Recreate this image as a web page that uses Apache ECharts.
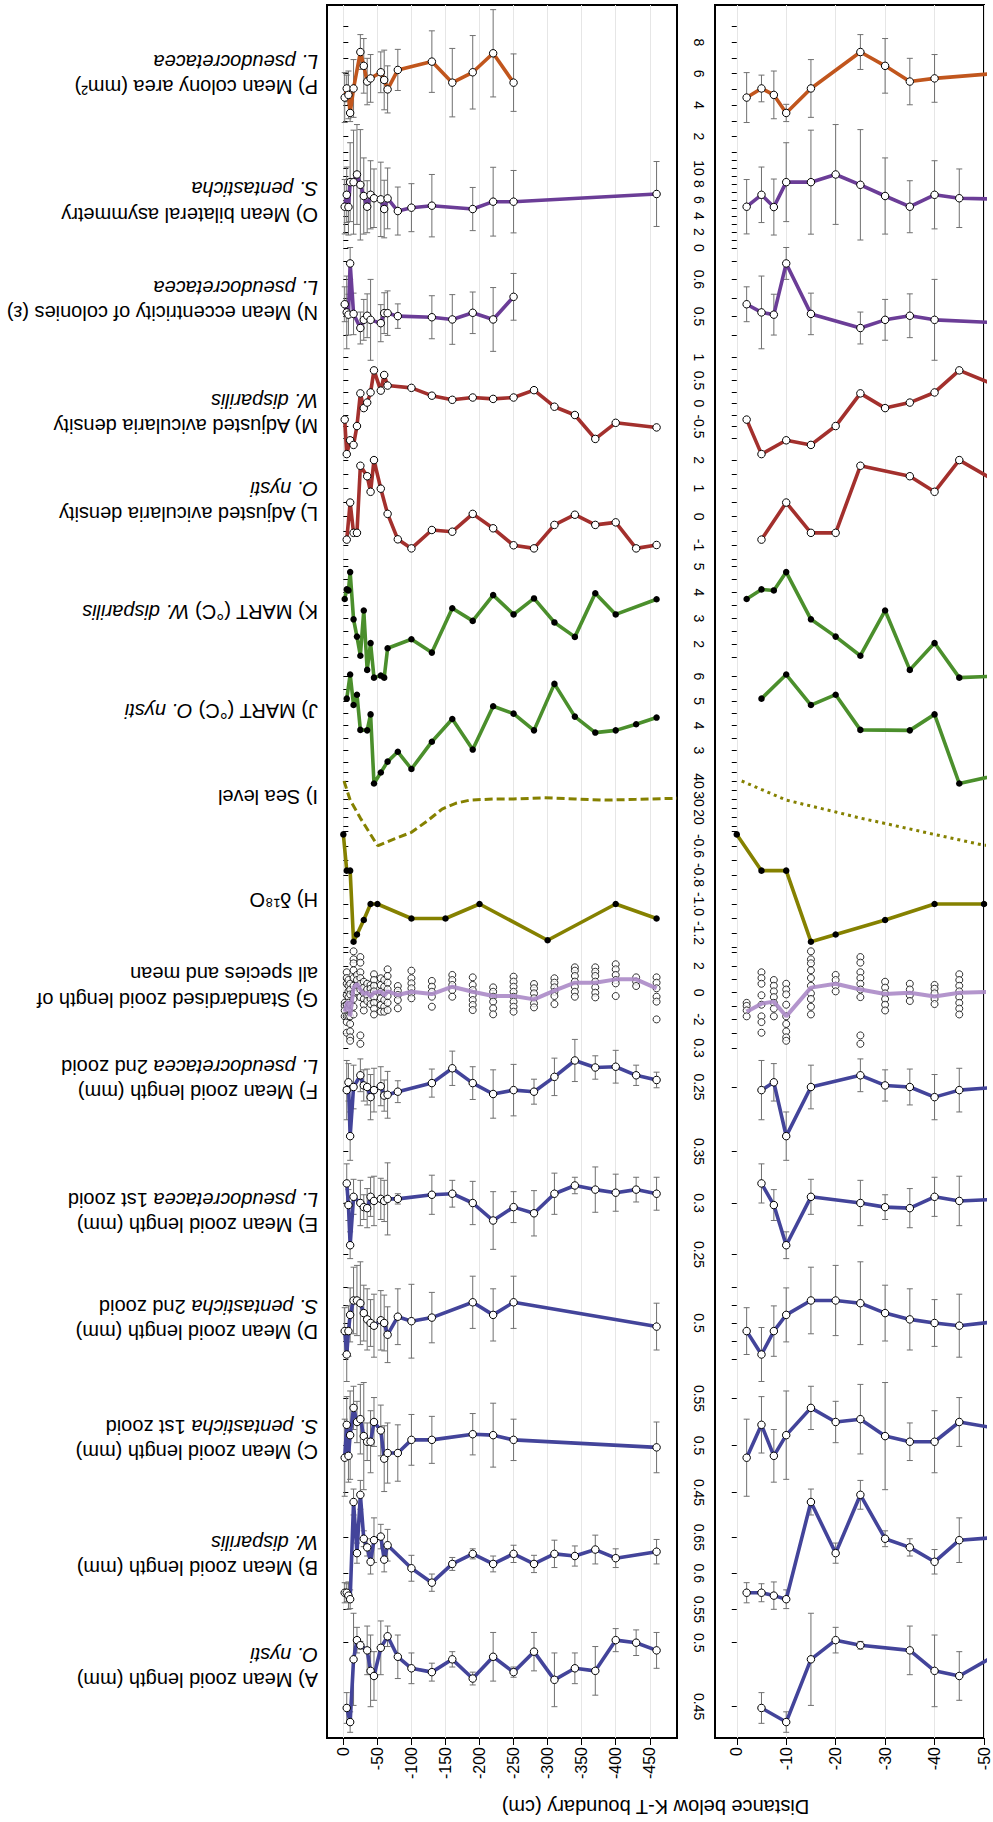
<!DOCTYPE html>
<html><head><meta charset="utf-8">
<script src="https://cdn.jsdelivr.net/npm/echarts@6/dist/echarts.min.js"></script>
<style>html,body{margin:0;padding:0;background:#fff}#c{width:993px;height:1822px}</style>
</head><body><div id="c"></div>
<script>
// ---------------- DATA (depth in cm below K-T boundary) ----------------
const depthA=[-5,-10,-15,-20,-25,-35,-40,-45,-55,-65,-80,-100,-130,-160,-190,-220,-250,-280,-310,-340,-370,-400,-430,-460];
const valA=[0.449,0.438,0.487,0.502,0.498,0.494,0.478,0.474,0.496,0.505,0.489,0.48,0.477,0.487,0.472,0.489,0.477,0.493,0.471,0.48,0.478,0.502,0.5,0.494];
const errA=[0.012,0.008,0.036,0.010,0.003,0.019,0.028,0.019,0.021,0.008,0.017,0.012,0.007,0.006,0.005,0.019,0.004,0.015,0.021,0.012,0.019,0.009,0.010,0.014];

const depthB=[-2,-5,-7.5,-10,-15,-20,-25,-30,-35,-40,-45,-55,-60,-65,-100,-130,-160,-190,-220,-250,-280,-310,-340,-370,-400,-460];
const valB=[0.573,0.573,0.569,0.564,0.699,0.628,0.709,0.648,0.636,0.616,0.646,0.651,0.619,0.639,0.607,0.587,0.613,0.627,0.613,0.627,0.613,0.627,0.624,0.633,0.621,0.63];
const errB=[0.014,0.0125,0.019,0.013,0.018,0.014,0.02,0.011,0.012,0.017,0.031,0.017,0.017,0.022,0.018,0.012,0.009,0.007,0.011,0.012,0.012,0.019,0.014,0.02,0.013,0.017];

const depthC=[-2,-5,-7.5,-10,-15,-20,-25,-30,-35,-40,-45,-55,-60,-65,-80,-100,-130,-190,-220,-250,-460];
const valC=[0.487,0.522,0.489,0.511,0.54,0.525,0.528,0.51,0.504,0.504,0.525,0.516,0.486,0.492,0.492,0.506,0.506,0.512,0.511,0.506,0.498];
const errC=[0.041,0.030,0.028,0.047,0.023,0.022,0.037,0.057,0.020,0.033,0.026,0.027,0.035,0.032,0.030,0.027,0.025,0.022,0.034,0.022,0.027];

const depthD=[-2,-5,-7.5,-10,-15,-20,-25,-30,-35,-40,-45,-55,-60,-65,-80,-100,-130,-190,-220,-250,-460];
const valD=[0.491,0.465,0.491,0.509,0.525,0.525,0.522,0.511,0.504,0.500,0.497,0.503,0.500,0.487,0.507,0.502,0.506,0.523,0.509,0.523,0.496];
const errD=[0.026,0.030,0.028,0.030,0.037,0.039,0.046,0.031,0.034,0.026,0.035,0.033,0.031,0.031,0.031,0.041,0.028,0.029,0.029,0.029,0.026];

const depthE=[-5,-7.5,-10,-15,-25,-30,-35,-40,-45,-55,-60,-65,-80,-130,-160,-190,-220,-250,-280,-310,-340,-370,-400,-430,-460];
const valE=[0.319,0.298,0.259,0.306,0.3,0.296,0.295,0.306,0.302,0.304,0.302,0.304,0.304,0.308,0.309,0.3,0.283,0.296,0.29,0.309,0.317,0.313,0.31,0.313,0.309];
const errE=[0.019,0.015,0.013,0.017,0.022,0.012,0.019,0.019,0.024,0.02,0.02,0.035,0.005,0.019,0.013,0.021,0.028,0.015,0.022,0.02,0.008,0.022,0.018,0.012,0.016];

const depthF=[-5,-7.5,-10,-15,-25,-30,-35,-40,-45,-55,-60,-65,-80,-130,-160,-190,-220,-250,-280,-310,-340,-370,-400,-430,-460];
const valF=[0.246,0.256,0.187,0.25,0.265,0.252,0.25,0.237,0.246,0.251,0.239,0.24,0.244,0.255,0.274,0.255,0.241,0.246,0.244,0.263,0.284,0.275,0.276,0.265,0.259];
const errF=[0.038,0.024,0.031,0.028,0.021,0.02,0.023,0.029,0.028,0.025,0.02,0.03,0.014,0.018,0.022,0.021,0.031,0.033,0.016,0.024,0.027,0.015,0.021,0.013,0.01];

const depthG=[-2,-5,-7.5,-10,-15,-20,-25,-30,-35,-40,-45,-55,-60,-65,-80,-100,-130,-160,-190,-220,-250,-280,-310,-340,-370,-400,-430,-460];
const valG=[-1.42,-0.82,-0.67,-1.77,0.38,0.67,0.24,-0.1,0.0,-0.28,0.0,0.1,-0.2,0.1,-0.17,0.07,-0.1,0.45,0.07,-0.25,-0.25,-0.5,0.15,0.75,0.75,1.0,1.0,0.33];
const gPoints=[
 [-2,[-0.76,-0.99,-1.33,-1.77]],
 [-5,[1.53,1.1,0.67,-0.19,-0.9,-1.77,-2.2,-3.0]],
 [-7.5,[0.95,0.52,0.1,-0.33,-0.76,-1.19,-1.77]],
 [-10,[0.67,0.24,-0.13,-0.9,-1.77,-2.34,-2.9,-3.34,-3.6]],
 [-15,[3.1,2.5,2.2,1.68,1.1,0.52,-0.05,-0.47,-1.05,-1.63]],
 [-20,[1.33,0.95,0.52,0.1]],
 [-25,[2.67,2.25,1.53,1.1,0.67,0.24,-0.33,-3.2,-3.83]],
 [-30,[0.82,0.38,-0.05,-0.47,-0.9,-1.33]],
 [-35,[0.67,0.24,-0.19,-0.62]],
 [-40,[0.58,0.3,-0.05,-0.47,-0.85]],
 [-45,[1.38,0.95,0.52,0.1,-0.33,-0.76,-1.19,-1.63]],
 [-55,[1.08,0.58,0.07,-0.42,-0.92,-1.42]],
 [-60,[0.95,0.45,-0.05,-0.55,-1.05,-1.42]],
 [-65,[1.75,1.25,0.75,0.25,-0.25,-0.75,-1.3]],
 [-80,[0.5,0.15,-0.17,-0.55,-1.17]],
 [-100,[1.65,1.08,0.7,0.33,-0.05,-0.42]],
 [-130,[0.88,0.45,0.07,-0.3,-1.05]],
 [-160,[1.33,0.95,0.58,0.2,-0.3]],
 [-190,[1.15,0.58,0.2,-0.17,-0.55,-0.92,-1.3]],
 [-220,[0.4,0.07,-0.3,-0.67,-1.17,-1.62]],
 [-250,[1.2,0.83,0.45,0.07,-0.3,-0.67,-1.05,-1.42]],
 [-280,[0.65,0.33,-0.05,-0.42,-0.8,-1.1]],
 [-310,[1.08,0.75,0.4,0.07,-0.25,-0.85]],
 [-340,[1.9,1.65,1.25,0.83,0.45,0.07,-0.3]],
 [-370,[1.9,1.57,1.25,0.83,0.4,0,-0.35]],
 [-400,[2.13,1.75,1.33,0.95,0.7,-0.25]],
 [-430,[1.15,0.83,0.5]],
 [-460,[1.15,0.75,0.33,-0.3,-0.67,-2.0]]
];

const depthH=[0,-5,-10,-15,-20,-30,-40,-50,-100,-150,-200,-300,-400,-460];
const valH=[-0.52,-0.77,-0.77,-1.26,-1.21,-1.11,-1.0,-1.0,-1.1,-1.1,-1.0,-1.25,-1.0,-1.1];

const depthI=[-1,-10,-20,-25,-30,-40,-50,-52,-75,-100,-125,-145,-165,-186,-220,-250,-295,-340,-384,-430,-490];
const valI=[40,29.4,22.8,19.4,16.4,10.3,4.3,4.2,7.8,11.5,18.3,24.4,27.6,29.4,30,30,30.7,30,29.4,29.8,30.4];

const depthJ=[-5,-10,-15,-20,-25,-35,-40,-45,-55,-65,-80,-100,-130,-160,-190,-220,-250,-280,-310,-340,-370,-400,-430,-460];
const valJ=[5.1,6.08,4.84,5.26,3.83,3.81,4.46,1.65,2.1,2.54,2.94,2.24,3.35,4.27,3.03,4.79,4.49,3.81,5.7,4.37,3.72,3.81,4.06,4.33];

const depthK=[-2,-5,-7.5,-10,-15,-20,-25,-30,-35,-40,-45,-55,-60,-65,-100,-130,-160,-190,-220,-250,-280,-310,-340,-370,-400,-460];
const valK=[3.75,4.12,4.08,4.79,2.96,2.29,1.55,3.3,1.0,2.04,0.7,0.78,0.7,1.84,2.19,1.67,3.39,2.9,3.9,3.15,3.77,2.84,2.28,3.97,3.15,3.74];

const depthL=[-5,-10,-15,-20,-25,-35,-40,-45,-55,-65,-80,-100,-130,-160,-190,-220,-250,-280,-310,-340,-370,-400,-430,-460];
const valL=[-0.81,0.5,-0.57,-0.57,1.8,1.43,0.88,2.0,0.99,0.1,-0.8,-1.12,-0.47,-0.53,0.1,-0.41,-1.01,-1.12,-0.29,0.07,-0.29,-0.2,-1.12,-1.0];

const depthM=[-2,-5,-10,-15,-20,-25,-30,-35,-40,-45,-55,-60,-65,-100,-130,-160,-190,-220,-250,-280,-310,-340,-370,-400,-460];
const valM=[-0.35,-1.1,-0.8,-0.9,-0.49,0.22,-0.1,0.02,0.24,0.72,0.28,0.62,0.39,0.34,0.17,0.08,0.13,0.1,0.13,0.29,-0.07,-0.25,-0.77,-0.42,-0.52];

const depthN=[-2,-5,-7.5,-10,-15,-25,-30,-35,-40,-55,-60,-65,-80,-130,-160,-190,-220,-250];
const valN=[0.533,0.511,0.505,0.643,0.507,0.469,0.491,0.502,0.491,0.482,0.509,0.509,0.501,0.498,0.492,0.510,0.492,0.553];
const errN=[0.047,0.098,0.055,0.043,0.056,0.043,0.055,0.059,0.109,0.05,0.055,0.06,0.033,0.058,0.067,0.056,0.086,0.063];

const depthO=[-2,-5,-7.5,-10,-15,-20,-25,-30,-35,-40,-45,-55,-60,-65,-80,-100,-130,-190,-220,-250,-460];
const valO=[5.16,6.65,5.12,8.23,8.23,9.19,7.9,6.5,5.16,6.65,6.22,6.08,4.87,6.2,4.62,5.04,5.29,4.87,5.79,5.79,6.75];
const errO=[3.4,3.47,3.5,4.93,6.5,6.24,6.9,4.76,3.25,4.26,3.66,4.65,3.6,3.8,3.0,3.0,3.9,2.7,4.3,3.9,4.06];

const depthP=[-2,-5,-7.5,-10,-15,-25,-30,-35,-40,-55,-60,-65,-80,-130,-160,-190,-220,-250];
const valP=[4.48,5.06,4.65,3.5,5.06,7.38,6.5,5.5,5.7,6.09,5.6,5.0,6.24,6.77,5.43,6.09,7.3,5.43];
const errP=[1.59,0.85,1.52,0.55,1.84,1.11,1.74,1.48,1.52,1.3,1.9,1.5,1.31,1.96,2.18,2.34,2.78,1.83];

// tick values / tick labels per row
const ticksA=[0.45,0.5], labA=[0.45,0.5];
const ticksB=[0.55,0.6,0.65], labB=[0.55,0.6,0.65];
const ticksC=[0.45,0.5,0.55], labC=[0.45,0.5,0.55];
const ticksD=[0.46,0.48,0.5,0.52,0.54], labD=[0.5];
const ticksE=[0.25,0.3,0.35], labE=[0.25,0.3,0.35];
const ticksF=[0.25,0.3], labF=[0.25,0.3];
const ticksG=[-3,-2,-1,0,1,2,3], labG=[-2,0,2];
const ticksH=[-1.3,-1.2,-1.1,-1.0,-0.9,-0.8,-0.7,-0.6,-0.5], labH=[-1.2,-1.0,-0.8,-0.6];
const ticksI=[15,20,25,30,35,40,45], labI=[20,30,40];
const ticksJ=[2.5,3,3.5,4,4.5,5,5.5,6], labJ=[3,4,5,6];
const ticksK=[1.5,2,2.5,3,3.5,4,4.5,5], labK=[2,3,4,5];
const ticksL=[-1.5,-1,-0.5,0,0.5,1,1.5,2], labL=[-1,0,1,2];
const ticksM=[-0.75,-0.5,-0.25,0,0.25,0.5,0.75,1], labM=[-0.5,0,0.5,1];
const ticksN=[0.45,0.5,0.55,0.6,0.65], labN=[0.5,0.6];
const ticksO=[0,1,2,3,4,5,6,7,8,9,10,11,12], labO=[0,2,4,6,8,10];
const ticksP=[2,3,4,5,6,7,8,9], labP=[2,4,6,8];
const xTicksFull=[0,-50,-100,-150,-200,-250,-300,-350,-400,-450];
const xTicksZoom=[0,-10,-20,-30,-40,-50];

// ---------------- STYLE / LAYOUT ----------------
const FONT='Liberation Sans';
const BLUE='#43449a', LPURP='#ab8ac6', OLIVE='#858100', GREEN='#4b8f2c', RED='#a3302d', PURP='#6b3d97', ORANGE='#c1561d';
const TOP=5, BOT=1738;
const panels=[
  {left:327,width:350,min:-490,max:24,xticks:xTicksFull,pos:'right',labels:false,dash:[8,4]},
  {left:715,width:269,min:-50,max:4.4,xticks:xTicksZoom,pos:'left',labels:true,dash:[3,4]}
];
// ref = [value, pixel-y] and px per unit : defines each strip's vertical scale
const rows=[
 {d:depthA,v:valA,e:errA,c:BLUE,m:'open',ref:[0.5,1642.7],k:1280,t:ticksA,l:labA},
 {d:depthB,v:valB,e:errB,c:BLUE,m:'open',ref:[0.6,1573.3],k:720,t:ticksB,l:labB},
 {d:depthC,v:valC,e:errC,c:BLUE,m:'open',ref:[0.5,1445.5],k:940,t:ticksC,l:labC},
 {d:depthD,v:valD,e:errD,c:BLUE,m:'open',ref:[0.5,1323],k:900,t:ticksD,l:labD},
 {d:depthE,v:valE,e:errE,c:BLUE,m:'open',ref:[0.3,1203],k:1030,t:ticksE,l:labE},
 {d:depthF,v:valF,e:errF,c:BLUE,m:'open',ref:[0.3,1048],k:780,t:ticksF,l:labF},
 {d:depthG,v:valG,c:LPURP,m:'none',ref:[0,992.7],k:13.35,t:ticksG,l:labG,scatter:gPoints,w:4},
 {d:depthH,v:valH,c:OLIVE,m:'fill',ref:[-0.6,846],k:145,t:ticksH,l:labH,dec:1},
 {d:depthI,v:valI,c:OLIVE,m:'none',ref:[30,799],k:1.8,t:ticksI,l:labI,dashed:true,w:3},
 {d:depthJ,v:valJ,c:GREEN,m:'fill',ref:[3,750.3],k:24.6,t:ticksJ,l:labJ},
 {d:depthK,v:valK,c:GREEN,m:'fill',ref:[4,592.5],k:25.8,t:ticksK,l:labK},
 {d:depthL,v:valL,c:RED,m:'open',ref:[0,516.7],k:28.3,t:ticksL,l:labL},
 {d:depthM,v:valM,c:RED,m:'open',ref:[0,403.5],k:46,t:ticksM,l:labM},
 {d:depthN,v:valN,e:errN,c:PURP,m:'open',ref:[0.5,316.5],k:371,t:ticksN,l:labN},
 {d:depthO,v:valO,e:errO,c:PURP,m:'open',ref:[0,248],k:8,t:ticksO,l:labO},
 {d:depthP,v:valP,e:errP,c:ORANGE,m:'open',ref:[8,42.3],k:15.7,t:ticksP,l:labP}
];
const titles=[
 {y:[1680,1655],txt:['A) Mean zooid length (mm)','{i|O. nysti}']},
 {y:[1568,1543],txt:['B) Mean zooid length (mm)','{i|W. disparilis}']},
 {y:[1452,1427],txt:['C) Mean zooid length (mm)','{i|S. pentasticha} 1st zooid']},
 {y:[1332,1307],txt:['D) Mean zooid length (mm)','{i|S. pentasticha} 2nd zooid']},
 {y:[1225,1200],txt:['E) Mean zooid length (mm)','{i|L. pseudocretacea} 1st zooid']},
 {y:[1092,1067],txt:['F) Mean zooid length (mm)','{i|L. pseudocretacea} 2nd zooid']},
 {y:[1000,974],txt:['G) Standardised zooid length of','all species and mean']},
 {y:[900],txt:['H) δ¹⁸O']},
 {y:[797],txt:['I) Sea level']},
 {y:[711],txt:['J) MART (°C) {i|O. nysti}']},
 {y:[612],txt:['K) MART (°C) {i|W. disparilis}']},
 {y:[514,489],txt:['L) Adjusted avicularia density','{i|O. nysti}']},
 {y:[426,401],txt:['M) Adjusted avicularia density','{i|W. disparilis}']},
 {y:[313,288],txt:['N) Mean eccentricity of colonies (ε)','{i|L. pseudocretacea}']},
 {y:[215,189],txt:['O) Mean bilateral asymmetry','{i|S. pentasticha}']},
 {y:[87,62],txt:['P) Mean colony area (mm²)','{i|L. pseudocretacea}']}
];
const TITLE_X=318, TITLE_FS=20;

// ---------------- BUILD OPTION ----------------
const grid=[], xAxis=[], yAxis=[], series=[];
panels.forEach((p,pi)=>{
  grid.push({left:p.left,top:TOP,width:p.width,height:BOT-TOP,show:true,borderColor:'#000',borderWidth:2,backgroundColor:'rgba(0,0,0,0)'});
  xAxis.push({gridIndex:pi,type:'value',min:p.min,max:p.max,inverse:true,interval:10,position:'bottom',
    axisLine:{show:false},
    axisTick:{show:true,customValues:p.xticks,length:7,lineStyle:{color:'#000',width:1}},
    axisLabel:{show:true,customValues:p.xticks,rotate:90,fontSize:16,fontFamily:FONT,color:'#000',margin:9},
    splitLine:{show:true,lineStyle:{color:'#e6e6e6',width:1}}});
  yAxis.push({gridIndex:pi,type:'value',min:0,max:1,show:false});
});
function errRender(params,api){
  const x=api.value(0),v=api.value(1),e=api.value(2);
  const a=api.coord([x,v+e]), b=api.coord([x,v-e]);
  const cw=3, st={stroke:'#707070',lineWidth:1};
  return {type:'group',children:[
    {type:'line',shape:{x1:a[0],y1:a[1],x2:b[0],y2:b[1]},style:st},
    {type:'line',shape:{x1:a[0]-cw,y1:a[1],x2:a[0]+cw,y2:a[1]},style:st},
    {type:'line',shape:{x1:b[0]-cw,y1:b[1],x2:b[0]+cw,y2:b[1]},style:st}]};
}
rows.forEach((r)=>{
  const ymax=r.ref[0]+(r.ref[1]-TOP)/r.k, ymin=r.ref[0]-(BOT-r.ref[1])/r.k;
  panels.forEach((p)=>{
    const gi=grid.length;
    grid.push({left:p.left,top:TOP,width:p.width,height:BOT-TOP});
    xAxis.push({gridIndex:gi,type:'value',min:p.min,max:p.max,inverse:true,show:false});
    yAxis.push({gridIndex:gi,type:'value',min:ymin,max:ymax,position:p.pos,
      axisLine:{show:false},splitLine:{show:false},
      axisTick:{show:true,customValues:r.t,length:5,lineStyle:{color:'#000',width:1}},
      axisLabel:{show:p.labels,customValues:r.l,rotate:-90,fontSize:14,fontFamily:FONT,color:'#000',margin:9,
        formatter:(v)=> r.dec!=null ? Number(v).toFixed(r.dec) : String(+Number(v).toFixed(4))}});
    const ax={xAxisIndex:gi,yAxisIndex:gi};
    if(r.e){
      series.push(Object.assign({type:'custom',renderItem:errRender,clip:true,z:2,silent:true,
        encode:{x:0,y:1},data:r.d.map((d,i)=>[d,r.v[i],r.e[i]])},ax));
    }
    if(r.scatter){
      const pts=[]; r.scatter.forEach(([d,vs])=>vs.forEach(v=>pts.push([d,v])));
      series.push(Object.assign({type:'scatter',data:pts,symbol:'circle',symbolSize:7,clip:true,z:3,silent:true,
        itemStyle:{color:'#fff',borderColor:'#000',borderWidth:1}},ax));
    }
    const line={type:'line',data:r.d.map((d,i)=>[d,r.v[i]]),clip:true,z:r.scatter?4:3,silent:true,
      lineStyle:{color:r.c,width:r.w||3.6,type:r.dashed?p.dash:'solid',opacity:r.scatter?0.9:1},
      symbol:r.m==='none'?'none':'circle',showSymbol:r.m!=='none',
      symbolSize:r.m==='fill'?6.5:7.5,
      itemStyle:r.m==='fill'?{color:'#000',borderWidth:0}:{color:'#fff',borderColor:'#000',borderWidth:1},
      emphasis:{disabled:true}};
    series.push(Object.assign(line,ax));
  });
});
const graphic=[];
titles.forEach(t=>{
  t.txt.forEach((s,i)=>{
    graphic.push({type:'text',x:TITLE_X,y:t.y[i],rotation:Math.PI,silent:true,z:10,
      style:{text:s,fill:'#000',fontSize:TITLE_FS,fontFamily:FONT,align:'left',verticalAlign:'middle',
        textAlign:'left',textVerticalAlign:'middle',
        rich:{i:{fontStyle:'italic',fontSize:TITLE_FS,fontFamily:FONT,fill:'#000'}}}});
  });
});
graphic.push({type:'text',x:655.5,y:1807,rotation:Math.PI,silent:true,
  style:{text:'Distance below K-T boundary (cm)',fill:'#000',fontSize:20,fontFamily:FONT,
    align:'center',verticalAlign:'middle',textAlign:'center',textVerticalAlign:'middle'}});

const chart=echarts.init(document.getElementById('c'),null,{renderer:'svg',width:993,height:1822});
chart.setOption({animation:false,backgroundColor:'#fff',grid,xAxis,yAxis,series,graphic});
</script></body></html>
